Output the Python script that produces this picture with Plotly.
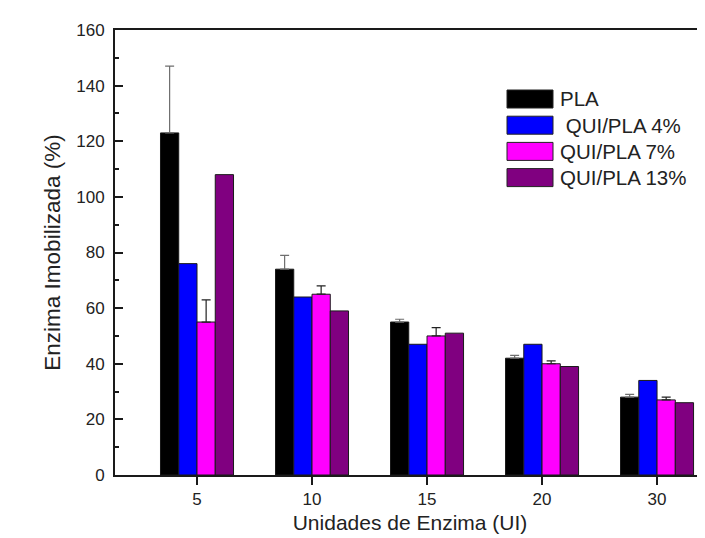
import plotly.graph_objects as go

# ---- data ----
categories = ["5", "10", "15", "20", "30"]
series_names = ["PLA", " QUI/PLA 4%", "QUI/PLA 7%", "QUI/PLA 13%"]
pla = [123, 74, 55, 42, 28]
pla_err = [24, 5, 1, 1, 1]
qui4 = [76, 64, 47, 47, 34]
qui7 = [55, 65, 50, 40, 27]
qui7_err = [8, 3, 3, 1, 1]
qui13 = [108, 59, 51, 39, 26]
y_ticks = [0, 20, 40, 60, 80, 100, 120, 140, 160]

colors = ["#000000", "#0000FF", "#FF00FF", "#800080"]
values = [pla, qui4, qui7, qui13]
errors = [pla_err, None, qui7_err, None]
err_colors = ["#6e6e6e", None, "#222222", None]

# the page body adds an 8px offset, so the figure is sized to compensate
OFF = 8
W, H = 705 - OFF, 538 - OFF
L, R, T, B = 115 - OFF, 0, 30 - OFF, 63
FONT = "Liberation Sans, Arial, sans-serif"
TXT = "#222222"

fig = go.Figure()
for name, vals, col, err, ecol in zip(series_names, values, colors, errors, err_colors):
    kw = {}
    if err is not None:
        kw["error_y"] = dict(type="data", array=err, arrayminus=[0] * len(err),
                             symmetric=False, color=ecol, thickness=1.2, width=4.5)
    fig.add_trace(go.Bar(
        x=categories, y=vals, name=name,
        marker=dict(color=col, line=dict(color="#1a1a1a", width=1)),
        showlegend=False, **kw))

# custom legend (large swatches like the original); positions in window pixels
pw, ph = W - L - R, H - T - B
def px_x(p):
    return (p - OFF - L) / pw
def px_y(p):
    return (H - B - (p - OFF)) / ph

shapes = []
annotations = []
for i, (name, col) in enumerate(zip(series_names, colors)):
    cy = 99 + 26.2 * i
    shapes.append(dict(type="rect", xref="paper", yref="paper",
                       x0=px_x(507), x1=px_x(553), y0=px_y(cy - 9), y1=px_y(cy + 9),
                       fillcolor=col, line=dict(color="#222222", width=1)))
    label = name.replace(" ", "&nbsp;", 1) if name.startswith(" ") else name
    annotations.append(dict(xref="paper", yref="paper", x=px_x(558), y=px_y(cy),
                            xanchor="left", yanchor="middle", text=label,
                            showarrow=False, font=dict(family=FONT, size=20.5, color=TXT)))

fig.update_layout(
    width=W, height=H,
    margin=dict(l=L, r=R, t=T, b=B, pad=0),
    paper_bgcolor="white", plot_bgcolor="white",
    barmode="group", bargap=0.365, bargroupgap=0,
    font=dict(family=FONT, color=TXT),
    shapes=shapes, annotations=annotations,
    xaxis=dict(
        type="category", range=[-0.713, 4.417],
        showline=True, linewidth=2, linecolor="#1a1a1a", mirror=True,
        ticks="outside", ticklen=8, tickwidth=1.5, tickcolor="#1a1a1a",
        showgrid=False, zeroline=False,
        tickfont=dict(family=FONT, size=17, color=TXT),
        title=dict(text="Unidades de Enzima (UI)", font=dict(family=FONT, size=21, color=TXT), standoff=7),
    ),
    yaxis=dict(
        range=[0, 160], tickvals=y_ticks,
        showline=True, linewidth=2, linecolor="#1a1a1a",
        ticks="inside", ticklen=8, tickwidth=1.5, tickcolor="#1a1a1a",
        minor=dict(dtick=10, ticks="inside", ticklen=4, tickwidth=1.5, tickcolor="#1a1a1a", showgrid=False),
        showgrid=False, zeroline=False,
        tickfont=dict(family=FONT, size=17, color=TXT),
        ticklabelstandoff=5,
        title=dict(text="Enzima Imobilizada (%)", font=dict(family=FONT, size=22.5, color=TXT), standoff=9),
    ),
)

fig.write_html("out.html")
